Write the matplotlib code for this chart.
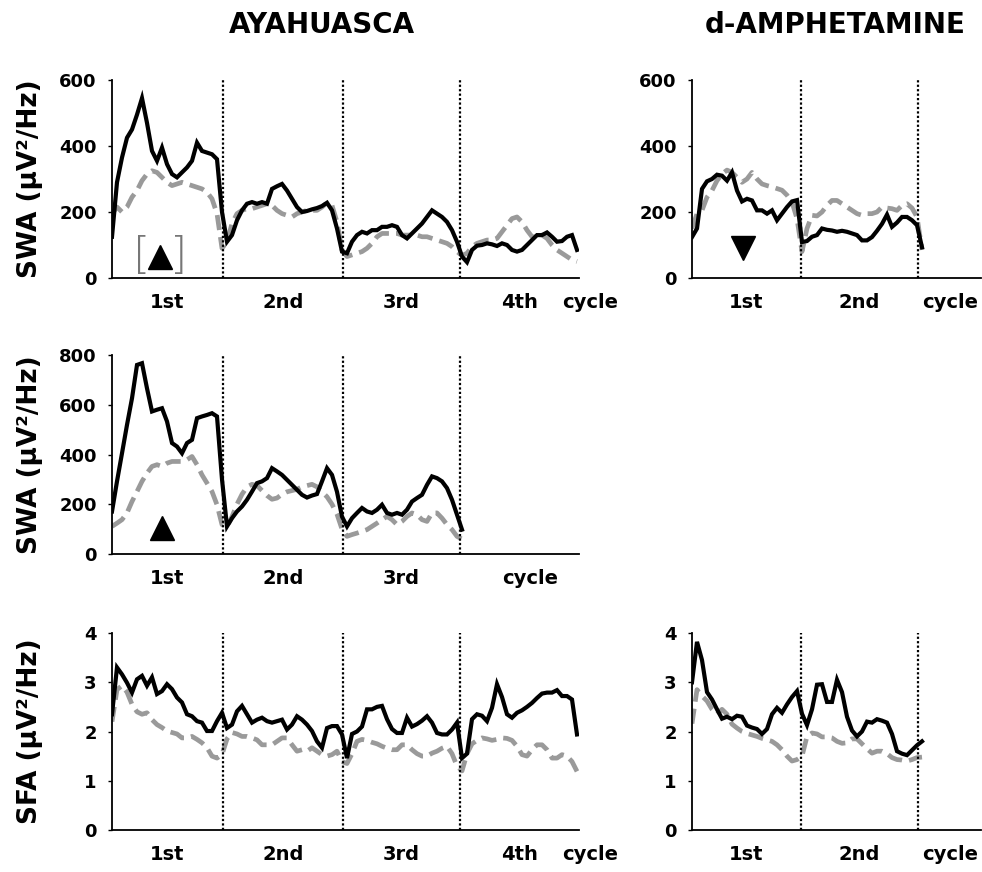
import matplotlib
matplotlib.use('Agg')
import matplotlib.pyplot as plt
import numpy as np

plt.rcParams['font.family'] = ['DejaVu Sans']
plt.rcParams['font.weight'] = 'bold'

# ---- data (one value per ~epoch step) ----
aya_swa1_drug = [125, 290, 365, 425, 450, 495, 545, 470, 385, 355,
                 395, 345, 315, 305, 320, 335, 355, 410, 385, 380,
                 375, 360, 200, 110, 130, 175, 205, 225, 230, 225,
                 230, 225, 270, 278, 285, 265, 240, 215, 200, 203,
                 208, 212, 218, 228, 205, 150, 80, 75, 110, 130,
                 140, 135, 145, 145, 155, 155, 160, 155, 130, 120,
                 135, 150, 165, 185, 205, 195, 185, 170, 145, 110,
                 65, 48, 85, 98, 100, 105, 102, 97, 105, 100,
                 85, 80, 85, 100, 115, 130, 130, 138, 125, 110,
                 112, 125, 130, 85]
aya_swa1_plac = [195, 215, 200, 215, 245, 265, 295, 315, 325, 320,
                 305, 290, 280, 285, 290, 285, 280, 275, 270, 260,
                 240, 195, 90, 110, 165, 195, 205, 210, 210, 215,
                 220, 225, 220, 205, 195, 190, 185, 195, 200, 205,
                 205, 205, 215, 228, 220, 170, 85, 65, 70, 75,
                 80, 90, 105, 125, 135, 135, 135, 135, 130, 130,
                 130, 130, 125, 125, 120, 115, 110, 105, 95, 80,
                 68, 75, 95, 105, 110, 115, 115, 120, 140, 160,
                 180, 185, 170, 145, 125, 125, 130, 120, 100, 85,
                 75, 65, 55, 50]

aya_swa2_drug = [171, 292, 405, 519, 626, 760, 767, 666, 573, 580,
                 586, 533, 446, 432, 405, 446, 459, 546, 553, 559,
                 566, 553, 300, 111, 144, 171, 191, 218, 251, 285,
                 292, 305, 345, 332, 318, 298, 278, 258, 238, 227,
                 235, 241, 292, 345, 318, 250, 150, 111, 144, 165,
                 185, 171, 165, 178, 198, 165, 158, 165, 158, 178,
                 211, 225, 238, 278, 312, 305, 292, 265, 218, 158,
                 98]
aya_swa2_plac = [111, 124, 138, 165, 211, 251, 292, 325, 352, 359,
                 352, 365, 372, 372, 372, 379, 392, 359, 318, 285,
                 251, 198, 118, 110, 150, 200, 240, 270, 280, 275,
                 255, 235, 220, 225, 240, 250, 255, 260, 270, 275,
                 280, 270, 250, 230, 200, 160, 100, 71, 78, 84,
                 91, 98, 111, 124, 138, 151, 138, 118, 131, 151,
                 165, 158, 138, 131, 165, 165, 144, 118, 98, 71,
                 60]

aya_sfa_drug = [2.35, 3.30, 3.16, 2.99, 2.79, 3.06, 3.13, 2.93, 3.10, 2.76,
                2.82, 2.96, 2.86, 2.69, 2.59, 2.35, 2.31, 2.21, 2.18, 2.01,
                2.01, 2.21, 2.38, 2.07, 2.14, 2.41, 2.52, 2.35, 2.18, 2.24,
                2.28, 2.21, 2.18, 2.21, 2.24, 2.04, 2.14, 2.31, 2.24, 2.14,
                2.01, 1.80, 1.67, 2.07, 2.11, 2.11, 1.94, 1.46, 1.95, 2.00,
                2.10, 2.45, 2.45, 2.50, 2.52, 2.25, 2.05, 1.97, 1.97, 2.28,
                2.10, 2.15, 2.22, 2.31, 2.18, 1.97, 1.94, 1.94, 2.04, 2.18,
                1.46, 1.55, 2.25, 2.35, 2.32, 2.21, 2.48, 2.96, 2.70, 2.35,
                2.28, 2.38, 2.43, 2.50, 2.58, 2.68, 2.77, 2.79, 2.79, 2.84,
                2.72, 2.72, 2.65, 1.94]
aya_sfa_plac = [2.20, 2.85, 2.93, 2.80, 2.55, 2.40, 2.35, 2.38, 2.24, 2.14,
                2.08, 2.01, 1.98, 1.95, 1.87, 1.87, 1.90, 1.84, 1.77, 1.67,
                1.50, 1.46, 1.53, 1.85, 1.98, 1.95, 1.90, 1.90, 1.87, 1.83,
                1.73, 1.73, 1.73, 1.80, 1.87, 1.87, 1.73, 1.60, 1.63, 1.60,
                1.67, 1.60, 1.53, 1.50, 1.53, 1.60, 1.39, 1.35, 1.55, 1.80,
                1.84, 1.82, 1.78, 1.75, 1.70, 1.66, 1.63, 1.63, 1.73, 1.73,
                1.63, 1.55, 1.50, 1.50, 1.56, 1.60, 1.66, 1.70, 1.55, 1.30,
                1.20, 1.55, 1.75, 1.82, 1.87, 1.85, 1.82, 1.84, 1.87, 1.86,
                1.82, 1.70, 1.53, 1.50, 1.63, 1.73, 1.73, 1.63, 1.46, 1.46,
                1.53, 1.50, 1.39, 1.19]

amp_swa_drug = [124, 150, 270, 293, 300, 313, 310, 295, 320, 265,
                232, 240, 235, 205, 205, 195, 205, 175, 195, 215,
                232, 236, 109, 112, 125, 130, 150, 146, 144, 140,
                143, 140, 135, 130, 114, 114, 124, 143, 164, 192,
                155, 168, 185, 185, 175, 160, 93]
amp_swa_plac = [150, 195, 205, 245, 265, 295, 315, 327, 320, 305,
                290, 300, 320, 300, 285, 280, 276, 271, 266, 251,
                230, 180, 80, 150, 190, 188, 200, 220, 235, 235,
                225, 215, 205, 195, 190, 195, 195, 200, 215, 212,
                210, 205, 220, 225, 212, 185, 85]

amp_sfa_drug = [3.0, 3.82, 3.45, 2.80, 2.65, 2.45, 2.26, 2.30, 2.25, 2.32,
                2.30, 2.12, 2.08, 2.05, 1.95, 2.05, 2.35, 2.48, 2.38, 2.55,
                2.70, 2.82, 2.36, 2.13, 2.45, 2.95, 2.96, 2.60, 2.60, 3.05,
                2.80, 2.30, 2.02, 1.90, 2.00, 2.20, 2.18, 2.25, 2.22, 2.18,
                1.95, 1.60, 1.55, 1.52, 1.62, 1.72, 1.80]
amp_sfa_plac = [2.16, 2.85, 2.72, 2.62, 2.45, 2.35, 2.45, 2.35, 2.15, 2.07,
                2.00, 1.96, 1.93, 1.90, 1.86, 1.83, 1.80, 1.73, 1.63, 1.50,
                1.40, 1.43, 1.50, 1.90, 1.97, 1.95, 1.89, 1.89, 1.87, 1.80,
                1.76, 1.77, 1.85, 1.85, 1.75, 1.65, 1.56, 1.60, 1.60, 1.55,
                1.47, 1.43, 1.42, 1.40, 1.43, 1.47, 1.48]

aya_bounds = [0, 22.2, 46.2, 69.6, 93.4]
amp_bounds = [0, 21.8, 45.2]
cycle_names = ['1st', '2nd', '3rd', '4th']

W, H = 982, 872


def panel(rect, drug, plac, bounds, ncyc, xmax, ymax, yticks, cycle_x, ylabel=None):
  ax = fig.add_axes([rect[0] / W, 1 - (rect[1] + rect[3]) / H, rect[2] / W, rect[3] / H])
  ax.plot(np.arange(len(plac)), plac, color='#9a9a9a', lw=3.4, dashes=(3.2, 1.5),
          solid_capstyle='butt')
  ax.plot(np.arange(len(drug)), drug, color='black', lw=3.0, solid_joinstyle='miter')
  for b in bounds[1:]:
    if b < xmax - 1:
      ax.axvline(b, color='black', lw=1.6, ls=(0, (1, 1)))
  ax.set_xlim(0, xmax)
  ax.set_ylim(0, ymax)
  ax.set_yticks(yticks)
  ax.tick_params(axis='y', length=3, width=1, labelsize=13, pad=8)
  ax.set_xticks([])
  for lab in ax.get_yticklabels():
    lab.set_fontweight('bold')
  for s in ['top', 'right']:
    ax.spines[s].set_visible(False)
  ax.spines['left'].set_linewidth(1.3)
  ax.spines['bottom'].set_linewidth(1.3)
  trans = ax.get_xaxis_transform()
  for k in range(ncyc):
    ax.text((bounds[k] + bounds[k + 1]) / 2, -0.125, cycle_names[k], transform=trans,
            ha='center', va='center', fontsize=14, fontweight='bold', clip_on=False)
  ax.text(cycle_x, -0.125, 'cycle', transform=trans, ha='center', va='center',
          fontsize=14, fontweight='bold', clip_on=False)
  if ylabel:
    fig.text(30 / W, 1 - (rect[1] + rect[3] / 2) / H, ylabel, rotation=90,
             ha='center', va='center', fontsize=19, fontweight='bold')
  return ax


fig = plt.figure(figsize=(W / 100, H / 100), dpi=100)

ax1 = panel((112, 80, 467, 198), aya_swa1_drug, aya_swa1_plac, aya_bounds, 4, 93.4,
            600, [0, 200, 400, 600], 95.6, 'SWA (μV²/Hz)')
ax1.plot([9.6], [64], marker='^', color='black', ms=17)
ax1.text(6.0, 64, '[', fontsize=32, color='#777777', fontweight='light',
         ha='center', va='center')
ax1.text(13.4, 64, ']', fontsize=32, color='#777777', fontweight='light',
         ha='center', va='center')

ax2 = panel((692, 80, 289, 198), amp_swa_drug, amp_swa_plac, amp_bounds, 2, 57.8,
            600, [0, 200, 400, 600], 51.6)
ax2.plot([10.2], [90], marker='v', color='black', ms=17)

ax3 = panel((112, 355, 467, 199), aya_swa2_drug, aya_swa2_plac, aya_bounds, 3, 93.4,
            800, [0, 200, 400, 600, 800], 83.6, 'SWA (μV²/Hz)')
ax3.plot([10.0], [105], marker='^', color='black', ms=17)

ax4 = panel((112, 633, 467, 197), aya_sfa_drug, aya_sfa_plac, aya_bounds, 4, 93.4,
            4, [0, 1, 2, 3, 4], 95.6, 'SFA (μV²/Hz)')

ax5 = panel((692, 633, 289, 197), amp_sfa_drug, amp_sfa_plac, amp_bounds, 2, 57.8,
            4, [0, 1, 2, 3, 4], 51.6)

fig.text(322 / W, 1 - 25 / H, 'AYAHUASCA', ha='center', va='center', fontsize=20,
         fontweight='bold')
fig.text(835 / W, 1 - 25 / H, 'd-AMPHETAMINE', ha='center', va='center', fontsize=20,
         fontweight='bold')

plt.savefig('out.png', dpi=100)
plt.close()
